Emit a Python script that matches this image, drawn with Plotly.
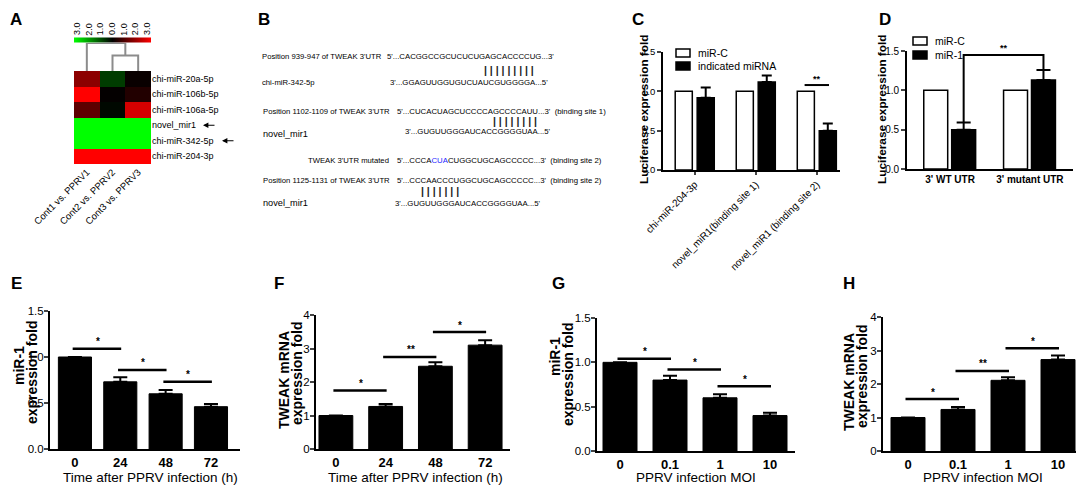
import plotly.graph_objects as go

# browser page has an 8px body margin -> the figure is drawn offset by 8px
OFF = 8
W, H = 1084, 487
FW, FH = W - OFF, H - OFF
FONT = "Liberation Sans, Arial, sans-serif"

# ------------------------------------------------------------------ data
# A: heatmap of miRNA log fold change
heat_rows = ["chi-miR-20a-5p", "chi-miR-106b-5p", "chi-miR-106a-5p",
             "novel_mir1", "chi-miR-342-5p", "chi-miR-204-3p"]
heat_cols = ["Cont1 vs. PPRV1", "Cont2 vs. PPRV2", "Cont3 vs. PPRV3"]
heat_z = [[1.65, -0.7, 0.1],
          [3.0, 0.05, 0.4],
          [1.1, -0.1, 2.5],
          [-3.0, -3.0, -3.0],
          [-3.0, -3.0, -3.0],
          [3.0, 3.0, 3.0]]
scale_vals = [-3, -2, -1, 0, 1, 2, 3]
scale_labels = ["3.0", "2.0", "1.0", "0.0", "1.0", "2.0", "3.0"]
arrow_rows = ["novel_mir1", "chi-miR-342-5p"]
dendro_merges = [(1, 2, 0.55), (0, "c", 1.0)]   # column clustering

# C: luciferase assay, three constructs
c_groups = ["chi-miR-204-3p", "novel_miR1(binding site 1)", "novel_miR1 (binding site 2)"]
c_series = ["miR-C", "indicated miRNA"]
c_ctrl = [1.0, 1.0, 1.0]
c_mirna = [0.92, 1.12, 0.50]
c_err = [0.13, 0.08, 0.09]
c_sig = [(2, 1.08, "**")]

# D: luciferase assay WT vs mutant
d_groups = ["3' WT UTR", "3' mutant UTR"]
d_series = ["miR-C", "miR-1"]
d_ctrl = [1.0, 1.0]
d_mir = [0.50, 1.13]
d_err = [0.09, 0.13]
d_bracket = (1.45, "**")

# E-H
time_labels = ["0", "24", "48", "72"]
moi_labels = ["0", "0.1", "1", "10"]
e_vals = [1.0, 0.73, 0.60, 0.46]
e_err = [0.0, 0.05, 0.04, 0.03]
e_sig = [(0, 1, 1.09, "*"), (1, 2, 0.86, "*"), (2, 3, 0.73, "*")]
f_vals = [1.0, 1.27, 2.47, 3.10]
f_err = [0.0, 0.07, 0.12, 0.15]
f_sig = [(0, 1, 1.75, "*"), (1, 2, 2.75, "**"), (2, 3, 3.49, "*")]
g_vals = [1.0, 0.80, 0.60, 0.40]
g_err = [0.0, 0.05, 0.04, 0.03]
g_sig = [(0, 1, 1.04, "*"), (1, 2, 0.92, "*"), (2, 3, 0.73, "*")]
h_vals = [1.0, 1.24, 2.11, 2.73]
h_err = [0.0, 0.07, 0.09, 0.12]
h_sig = [(0, 1, 1.55, "*"), (1, 2, 2.39, "**"), (2, 3, 3.07, "*")]

# ------------------------------------------------------------------ helpers
fig = go.Figure()
annotations = []
shapes = []


def X(p):
    return (p - OFF) / FW


def Y(p):
    return 1 - (p - OFF) / FH


def sid(n):
    return "" if n == 1 else str(n)


def set_axes(n, xpx, ypx, xrange, yrange, xkw=None, ykw=None):
    s = sid(n)
    xk = dict(domain=[X(xpx[0]), X(xpx[1])], anchor="y" + s, range=xrange,
              showgrid=False, zeroline=False, automargin=False)
    yk = dict(domain=[Y(ypx[1]), Y(ypx[0])], anchor="x" + s, range=yrange,
              showgrid=False, zeroline=False, automargin=False)
    xk.update(xkw or {})
    yk.update(ykw or {})
    fig.update_layout({"xaxis" + s: xk, "yaxis" + s: yk})


def text(x, y, t, size=9, bold=False, family=FONT, xanchor="left", angle=0, color="black"):
    if bold:
        t = "<b>" + t + "</b>"
    annotations.append(dict(x=X(x), y=Y(y), xref="paper", yref="paper", text=t,
                            showarrow=False, xanchor=xanchor, yanchor="middle",
                            textangle=angle, font=dict(family=family, size=size, color=color)))


# ------------------------------------------------------------------ panel labels
for lab, (lx, ly) in zip("ABCDEFGH", [(16, 19), (264, 19), (638, 19), (885, 19),
                                       (16, 283), (279, 283), (558, 283), (849, 283)]):
    text(lx, ly, lab, size=17, bold=True, xanchor="center")

# ------------------------------------------------------------------ A heatmap
fig.add_trace(go.Heatmap(
    z=heat_z, x=list(range(len(heat_cols))), y=list(range(len(heat_rows))),
    xaxis="x", yaxis="y", zmin=-3, zmax=3,
    colorscale=[[0, "#00ff00"], [0.5, "#000000"], [1, "#ff0000"]],
    colorbar=dict(orientation="h", x=X(112.5), y=Y(40), xanchor="center", yanchor="middle",
                  len=77, lenmode="pixels", thickness=5, showticklabels=False, ticks="",
                  outlinewidth=0, xpad=0, ypad=0),
    hoverinfo="skip"))
set_axes(1, (74, 151), (71, 164), [-0.5, 2.5], [5.5, -0.5],
         xkw=dict(tickvals=list(range(3)), ticktext=heat_cols, tickangle=-45, ticks="",
                  tickfont=dict(family=FONT, size=9.5, color="black")),
         ykw=dict(tickvals=list(range(6)), ticktext=heat_rows, side="right", ticks="",
                  tickfont=dict(family=FONT, size=9, color="black")))
# colour scale labels
cb_x0, cb_x1 = 77, 147
for v, lab in zip(scale_vals, scale_labels):
    xx = cb_x0 + (v - scale_vals[0]) / (scale_vals[-1] - scale_vals[0]) * (cb_x1 - cb_x0)
    text(xx, 29, lab, size=9, xanchor="center", angle=-90)
# arrows next to selected rows
row_y = {r: 71 + (i + 0.5) * (164 - 71) / len(heat_rows) for i, r in enumerate(heat_rows)}
for r, hx in zip(arrow_rows, [203, 222]):
    annotations.append(dict(x=X(hx), y=Y(row_y[r]), ax=13, ay=0, xref="paper", yref="paper",
                            axref="pixel", ayref="pixel", text="", showarrow=True, arrowhead=2,
                            arrowsize=0.9, arrowwidth=1.2, arrowcolor="black"))

# dendrogram
pos = {0: 0.0, 1: 1.0, 2: 2.0}
hgt = {0: 0.0, 1: 0.0, 2: 0.0}
dx, dy = [], []
for a, b, h in dendro_merges:
    xa, xb = pos[a], pos[b]
    dx += [xa, xa, xb, xb, None]
    dy += [hgt[a], h, h, hgt[b], None]
    pos["c"] = (xa + xb) / 2
    hgt["c"] = h
fig.add_trace(go.Scatter(x=dx, y=dy, mode="lines", line=dict(color="#8c8c8c", width=2),
                         xaxis="x2", yaxis="y2", showlegend=False, hoverinfo="skip"))
set_axes(2, (74, 151), (43, 71), [-0.5, 2.5], [0, 1],
         xkw=dict(visible=False), ykw=dict(visible=False))

# ------------------------------------------------------------------ B sequences
b_labels = [
    (260, 57, "Position 939-947 of TWEAK 3'UTR"),
    (260, 82, "chi-miR-342-5p"),
    (261, 111, "Position 1102-1109 of TWEAK 3'UTR"),
    (306, 160, "TWEAK 3'UTR mutated"),
    (261, 180, "Position 1125-1131 of TWEAK 3'UTR"),
]
b_seqs = [
    (385, 57, "5'...CACGGCCGCUCUCUGAGCACCCCUG...3'"),
    (388, 82, "3'...GGAGUUGGUGUCUAUCGUGGGGA...5'"),
    (395, 111, "5'...CUCACUAGCUCCCCAGCCCCAUU...3'  (binding site 1)"),
    (403, 132, "3'...GUGUUGGGAUCACCGGGGUAA...5'"),
    (395, 160, "5'...CCCA<span style='color:#1f1fff'>CUA</span>CUGGCUGCAGCCCCC...3'  (binding site 2)"),
    (395, 180, "5'...CCCAACCCUGGCUGCAGCCCCC...3'  (binding site 2)"),
    (393, 203, "3'...GUGUUGGGAUCACCGGGGUAA...5'"),
]
for x_, y_, t in b_labels:
    text(x_, y_, t, size=7.7)
for x_, y_, t in b_seqs:
    text(x_, y_, t, size=7.8)
for x_, y_ in [(261, 134), (261, 203)]:
    text(x_, y_, "novel_mir1", size=9.2)
for x_, y_, n in [(482, 70, 9), (491, 121, 8), (419, 191, 7)]:
    text(x_, y_, " ".join(["|"] * n), size=10.5, bold=True, color="#222222")

# ------------------------------------------------------------------ C
AX_C = dict(showline=True, linecolor="black", linewidth=1.6)
fig.add_trace(go.Bar(x=list(range(3)), y=c_ctrl, width=0.28, offset=-0.32, name=c_series[0],
                     marker=dict(color="white", line=dict(color="black", width=1.5)),
                     xaxis="x3", yaxis="y3", showlegend=False))
fig.add_trace(go.Bar(x=list(range(3)), y=c_mirna, width=0.28, offset=0.04, name=c_series[1],
                     marker=dict(color="black", line=dict(color="black", width=1.5)),
                     error_y=dict(type="data", symmetric=False, array=c_err, arrayminus=[0] * 3,
                                  color="black", thickness=2, width=5),
                     xaxis="x3", yaxis="y3", showlegend=False))
set_axes(3, (663, 840), (52, 170), [-0.52, 2.38], [0, 1.5],
         xkw=dict(AX_C, tickvals=list(range(3)), ticktext=c_groups, tickangle=-45, ticks="outside",
                  ticklen=3, tickwidth=1.5, tickfont=dict(family=FONT, size=10, color="black")),
         ykw=dict(AX_C, tickvals=[0, 0.5, 1.0, 1.5], tickformat=".1f", ticks="outside", ticklen=4,
                  tickwidth=1.5, tickfont=dict(family=FONT, size=9.5, color="black")))
for g, yv, lab in c_sig:
    shapes.append(dict(type="line", xref="x3", yref="y3", x0=g - 0.2, x1=g + 0.2, y0=yv, y1=yv,
                       line=dict(color="black", width=2)))
    annotations.append(dict(x=g, y=yv, xref="x3", yref="y3", text="<b>" + lab + "</b>", yshift=6,
                            showarrow=False, font=dict(family=FONT, size=9, color="black")))
text(644, 110, "Luciferase expression fold", size=11.8, bold=True, xanchor="center", angle=-90)
# legend C
for (y0, y1, col), lab in zip([(49, 57, "white"), (62, 70, "black")], c_series):
    shapes.append(dict(type="rect", xref="paper", yref="paper", x0=X(676), x1=X(690), y0=Y(y1), y1=Y(y0),
                       fillcolor=col, line=dict(color="black", width=1.5)))
    text(696, (y0 + y1) / 2, lab, size=10.5)

# ------------------------------------------------------------------ D
fig.add_trace(go.Bar(x=list(range(2)), y=d_ctrl, width=0.3, offset=-0.33, name=d_series[0],
                     marker=dict(color="white", line=dict(color="black", width=1.5)),
                     xaxis="x4", yaxis="y4", showlegend=False))
fig.add_trace(go.Bar(x=list(range(2)), y=d_mir, width=0.3, offset=0.02, name=d_series[1],
                     marker=dict(color="black", line=dict(color="black", width=1.5)),
                     error_y=dict(type="data", symmetric=False, array=d_err, arrayminus=[0] * 2,
                                  color="black", thickness=2, width=7),
                     xaxis="x4", yaxis="y4", showlegend=False))
set_axes(4, (907, 1073), (51, 169), [-0.54, 1.54], [0, 1.5],
         xkw=dict(AX_C, tickvals=list(range(2)), ticktext=["<b>" + t + "</b>" for t in d_groups],
                  ticks="", tickfont=dict(family=FONT, size=10, color="black")),
         ykw=dict(AX_C, tickvals=[0, 0.5, 1.0, 1.5], tickformat=".1f", ticks="outside", ticklen=4,
                  tickwidth=1.5, tickfont=dict(family=FONT, size=10, color="black")))
bx0, bx1 = 0 + 0.02 + 0.15, 1 + 0.02 + 0.15
by_top, blab = d_bracket
shapes.append(dict(type="path", xref="x4", yref="y4",
                   path=f"M {bx0},{d_mir[0] + d_err[0]} L {bx0},{by_top} L {bx1},{by_top} L {bx1},{d_mir[1] + d_err[1]}",
                   line=dict(color="black", width=2)))
annotations.append(dict(x=(bx0 + bx1) / 2, y=by_top, xref="x4", yref="y4", text="<b>" + blab + "</b>",
                        yshift=7, showarrow=False, font=dict(family=FONT, size=9, color="black")))
text(882, 110, "Luciferase expression fold", size=11.8, bold=True, xanchor="center", angle=-90)
for (y0, y1, col), lab in zip([(37, 45, "white"), (51, 59, "black")], d_series):
    shapes.append(dict(type="rect", xref="paper", yref="paper", x0=X(913), x1=X(927), y0=Y(y1), y1=Y(y0),
                       fillcolor=col, line=dict(color="black", width=1.5)))
    text(933, (y0 + y1) / 2, lab, size=10.5)

# ------------------------------------------------------------------ E-H
AX = dict(showline=True, linecolor="black", linewidth=2)


def bar_panel(n, vals, errs, cats, width, sig, xpx, ypx, xrange, yrange, yticks, yfmt):
    s = sid(n)
    fig.add_trace(go.Bar(x=list(range(len(vals))), y=vals, width=width,
                         marker=dict(color="black", line=dict(color="black", width=1)),
                         error_y=dict(type="data", symmetric=False, array=errs,
                                      arrayminus=[0] * len(errs), color="black", thickness=2, width=7),
                         xaxis="x" + s, yaxis="y" + s, showlegend=False))
    set_axes(n, xpx, ypx, xrange, yrange,
             xkw=dict(AX, tickvals=list(range(len(cats))), ticktext=["<b>" + c + "</b>" for c in cats],
                      ticks="", tickfont=dict(family=FONT, size=13, color="black")),
             ykw=dict(AX, tickvals=yticks, tickformat=yfmt, ticks="outside", ticklen=4, tickwidth=2,
                      ticklabelstandoff=-2, tickfont=dict(family=FONT, size=11.5, color="black")))
    for i, j, yv, lab in sig:
        shapes.append(dict(type="line", xref="x" + s, yref="y" + s, x0=i - 0.05, x1=j + 0.02, y0=yv, y1=yv,
                           line=dict(color="black", width=2.5)))
        annotations.append(dict(x=(i + j) / 2, y=yv, xref="x" + s, yref="y" + s, text="<b>" + lab + "</b>",
                                yshift=7, showarrow=False, font=dict(family=FONT, size=10, color="black")))


bar_panel(5, e_vals, e_err, time_labels, 0.73, e_sig, (50, 240), (311, 449), [-0.55, 3.64], [0, 1.5],
          [0, 0.5, 1.0, 1.5], ".1f")
bar_panel(6, f_vals, f_err, time_labels, 0.68, f_sig, (316, 510), (315, 449), [-0.4, 3.5], [0, 4],
          [0, 1, 2, 3, 4], "d")
bar_panel(7, g_vals, g_err, moi_labels, 0.68, g_sig, (597, 795), (318, 451), [-0.46, 3.5], [0, 1.5],
          [0, 0.5, 1.0, 1.5], ".1f")
bar_panel(8, h_vals, h_err, moi_labels, 0.68, h_sig, (883, 1081), (317, 451), [-0.5, 3.46], [0, 4],
          [0, 1, 2, 3, 4], "d")

# axis titles E-H
for (x1, y1, t1), (x2, y2, t2) in [((19, 366, "miR-1"), (32, 373, "expression fold")),
                                    ((284, 380, "TWEAK mRNA"), (297, 374, "expression fold")),
                                    ((555, 357, "miR-1"), (568, 375, "expression fold")),
                                    ((849, 382, "TWEAK mRNA"), (862, 376, "expression fold"))]:
    text(x1, y1, t1, size=14, bold=True, xanchor="center", angle=-90)
    text(x2, y2, t2, size=14, bold=True, xanchor="center", angle=-90)
for cx, t in [(150, "Time after PPRV infection (h)"), (415, "Time after PPRV infection (h)"),
              (696, "PPRV infection MOI"), (983, "PPRV infection MOI")]:
    text(cx, 477, t, size=13.5, xanchor="center")

fig.update_layout(width=FW, height=FH, margin=dict(l=0, r=0, t=0, b=0, pad=0, autoexpand=False),
                  autosize=False,
                  paper_bgcolor="white", plot_bgcolor="white", barmode="overlay",
                  font=dict(family=FONT, color="black"), showlegend=False,
                  annotations=annotations, shapes=shapes)
fig.write_html("out.html")
